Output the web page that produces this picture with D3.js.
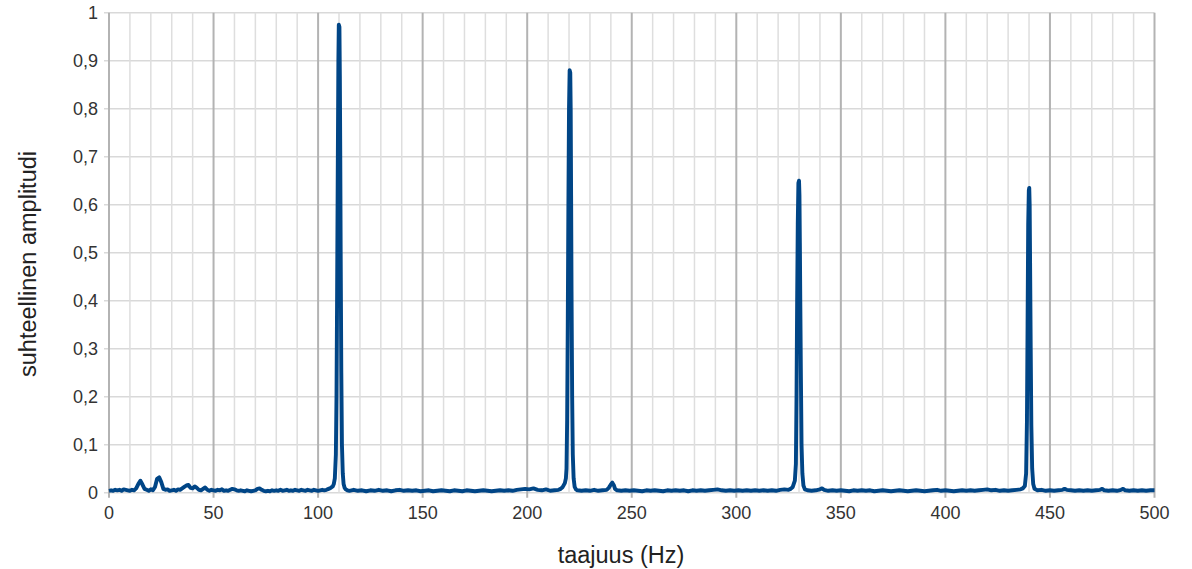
<!DOCTYPE html>
<html>
<head>
<meta charset="utf-8">
<script src="https://cdn.jsdelivr.net/npm/d3@7"></script>
<style>
  body { margin: 0; background: #fff; }
  text { font-family: "Liberation Sans", Arial, sans-serif; fill: #333; }
</style>
</head>
<body>
<div id="chart"></div>
<script>
// frame
const FRAME_WIDTH = 1192;
const FRAME_HEIGHT = 569;
const MARGINS = {left: 109, right: 37.5, top: 12.7, bottom: 76.3};

// tick values
const xTicks = [0, 50, 100, 150, 200, 250, 300, 350, 400, 450, 500];
const xMinor = [10, 20, 30, 40, 60, 70, 80, 90, 110, 120, 130, 140, 160, 170, 180, 190,
                210, 220, 230, 240, 260, 270, 280, 290, 310, 320, 330, 340, 360, 370, 380, 390,
                410, 420, 430, 440, 460, 470, 480, 490];
const yTicks = [0, 0.1, 0.2, 0.3, 0.4, 0.5, 0.6, 0.7, 0.8, 0.9, 1];

// spectrum, [frequency Hz, relative amplitude]
const lowBand = [[0,0.004],[1,0.005],[2,0.004],[3,0.006],[4,0.005],[5,0.006],[6,0.004],[7,0.007],[8,0.006],[9,0.005],
  [10,0.004],[11,0.006],[12,0.005],[13,0.009],[14,0.018],[15,0.025],[16,0.017],[17,0.008],[18,0.006],[19,0.004],
  [20,0.007],[21,0.005],[22,0.012],[23,0.029],[24,0.032],[25,0.022],[26,0.008],[27,0.006],[28,0.007],[29,0.004],
  [30,0.005],[31,0.006],[32,0.004],[33,0.007],[34,0.006],[35,0.009],[36,0.012],[37,0.015],[38,0.016],[39,0.01],
  [40,0.009],[41,0.013],[42,0.01],[43,0.006],[44,0.005],[45,0.008],[46,0.011],[47,0.006],[48,0.004],[49,0.006],
  [50,0.005],[51,0.004],[52,0.006],[53,0.005],[54,0.007],[55,0.004],[56,0.005],[57,0.004],[58,0.006],[59,0.008],
  [60,0.007],[61,0.005],[62,0.004],[63,0.005],[64,0.004],[65,0.003],[66,0.005],[67,0.004],[68,0.003],[69,0.004],
  [70,0.005],[71,0.008],[72,0.009],[73,0.006],[74,0.004],[75,0.003],[76,0.004],[77,0.003],[78,0.005],[79,0.004],
  [80,0.005],[81,0.004],[82,0.006],[83,0.004],[84,0.005],[85,0.006],[86,0.004],[87,0.005],[88,0.004],[89,0.006],
  [90,0.005],[91,0.004],[92,0.006],[93,0.005],[94,0.004],[95,0.006],[96,0.005],[97,0.004],[98,0.006],[99,0.005],
  [100,0.004],[101,0.005],[102,0.006],[103,0.005],[104,0.006],[105,0.008],[106,0.01],[107,0.013]];

const peak110 = [[107.5,0.018],[108,0.03],[108.5,0.08],[108.8,0.2],[109.1,0.42],[109.4,0.67],[109.7,0.9],
  [109.9,0.975],[110.2,0.97],[110.4,0.87],[110.6,0.7],[110.8,0.5],[111.1,0.25],[111.4,0.1],[111.8,0.04],
  [112.2,0.018],[112.7,0.01],[113.2,0.007],[114,0.005]];

const band2 = [[115,0.004],[117,0.006],[119,0.004],[121,0.005],[123,0.003],[125,0.005],[127,0.004],[129,0.006],
  [131,0.004],[133,0.005],[135,0.003],[137,0.005],[139,0.006],[141,0.004],[143,0.005],[145,0.004],[147,0.005],
  [149,0.003],[151,0.004],[153,0.005],[155,0.003],[157,0.004],[159,0.005],[161,0.004],[163,0.003],[165,0.005],
  [167,0.004],[169,0.003],[171,0.005],[173,0.004],[175,0.003],[177,0.004],[179,0.005],[181,0.004],[183,0.003],
  [185,0.004],[187,0.005],[189,0.004],[191,0.005],[193,0.004],[195,0.006],[197,0.007],[199,0.008],[201,0.007],
  [203,0.009],[205,0.006],[207,0.005],[209,0.007],[211,0.004],[213,0.005],[215,0.006],[216,0.008],[217,0.012],
  [218,0.02],[218.5,0.03]];

const peak220 = [[218.8,0.05],[219.1,0.15],[219.4,0.35],[219.7,0.6],[220,0.8],[220.3,0.88],[220.6,0.875],
  [220.8,0.8],[221,0.62],[221.2,0.42],[221.5,0.2],[221.8,0.08],[222.2,0.03],[222.7,0.012],[223.3,0.007]];

const band3 = [[224,0.005],[226,0.004],[228,0.005],[230,0.004],[232,0.006],[234,0.004],[236,0.005],[238,0.006],
  [239,0.01],[240,0.017],[240.7,0.021],[241.5,0.015],[242,0.008],[243,0.005],[245,0.004],[247,0.005],[249,0.004],
  [251,0.005],[253,0.004],[255,0.003],[257,0.005],[259,0.004],[261,0.005],[263,0.004],[265,0.003],[267,0.005],
  [269,0.004],[271,0.005],[273,0.004],[275,0.005],[277,0.003],[279,0.005],[281,0.004],[283,0.005],[285,0.004],
  [287,0.005],[289,0.006],[291,0.007],[293,0.005],[295,0.004],[297,0.005],[299,0.004],[301,0.005],[303,0.004],
  [305,0.005],[307,0.004],[309,0.005],[311,0.004],[313,0.005],[315,0.004],[317,0.005],[319,0.004],[321,0.006],
  [323,0.007],[325,0.006],[326,0.008],[327,0.012],[328,0.025]];

const peak330 = [[328.5,0.06],[328.8,0.2],[329.1,0.4],[329.4,0.56],[329.7,0.645],[330,0.65],[330.2,0.62],
  [330.4,0.52],[330.6,0.4],[330.9,0.24],[331.2,0.1],[331.6,0.04],[332.1,0.015],[332.8,0.007]];

const band4 = [[334,0.005],[336,0.004],[338,0.005],[340,0.007],[341,0.009],[342,0.006],[344,0.004],[346,0.005],
  [348,0.004],[350,0.005],[352,0.004],[354,0.003],[356,0.005],[358,0.004],[360,0.005],[362,0.004],[364,0.005],
  [366,0.003],[368,0.004],[370,0.005],[372,0.004],[374,0.003],[376,0.004],[378,0.005],[380,0.004],[382,0.003],
  [384,0.004],[386,0.005],[388,0.004],[390,0.003],[392,0.004],[394,0.005],[396,0.006],[398,0.004],[400,0.005],
  [402,0.004],[404,0.003],[406,0.004],[408,0.005],[410,0.004],[412,0.005],[414,0.004],[416,0.005],[418,0.006],
  [420,0.007],[422,0.005],[424,0.006],[426,0.004],[428,0.005],[430,0.004],[432,0.005],[434,0.006],[436,0.007],
  [437,0.009],[438,0.014]];

const peak440 = [[438.6,0.04],[439,0.15],[439.3,0.35],[439.6,0.56],[439.9,0.63],[440.1,0.635],[440.3,0.6],
  [440.5,0.48],[440.8,0.3],[441.1,0.14],[441.5,0.05],[442,0.018],[442.6,0.008]];

const band5 = [[444,0.005],[446,0.006],[448,0.004],[450,0.005],[452,0.004],[454,0.005],[456,0.006],[457,0.008],
  [458,0.006],[460,0.005],[462,0.004],[464,0.005],[466,0.004],[468,0.005],[470,0.004],[472,0.005],[474,0.006],
  [475,0.008],[476,0.005],[478,0.004],[480,0.005],[482,0.004],[484,0.006],[485,0.008],[486,0.005],[488,0.004],
  [490,0.005],[492,0.004],[494,0.005],[496,0.004],[498,0.005],[500,0.005]];

const spectrum = [].concat(lowBand, peak110, band2, peak220, band3, peak330, band4, peak440, band5);

const svg = d3.select("#chart")
  .append("svg")
  .attr("width", FRAME_WIDTH)
  .attr("height", FRAME_HEIGHT);

const X_SCALE = d3.scaleLinear()
  .domain([0, 500])
  .range([MARGINS.left, FRAME_WIDTH - MARGINS.right]);

const Y_SCALE = d3.scaleLinear()
  .domain([0, 1])
  .range([FRAME_HEIGHT - MARGINS.bottom, MARGINS.top]);

const x0 = X_SCALE(0), x1 = X_SCALE(500);
const y0 = Y_SCALE(0), y1 = Y_SCALE(1);

// horizontal grid (with small outside ticks)
svg.selectAll(".hgrid")
  .data(yTicks)
  .enter()
  .append("line")
    .attr("x1", x0 - 5)
    .attr("x2", x1)
    .attr("y1", d => Y_SCALE(d))
    .attr("y2", d => Y_SCALE(d))
    .style("stroke", "#d9d9d9")
    .style("stroke-width", 1.5);

// minor vertical grid
svg.selectAll(".vminor")
  .data(xMinor)
  .enter()
  .append("line")
    .attr("x1", d => X_SCALE(d))
    .attr("x2", d => X_SCALE(d))
    .attr("y1", y1)
    .attr("y2", y0)
    .style("stroke", "#dedede")
    .style("stroke-width", 1.5);

// major vertical grid
svg.selectAll(".vmajor")
  .data(xTicks)
  .enter()
  .append("line")
    .attr("x1", d => X_SCALE(d))
    .attr("x2", d => X_SCALE(d))
    .attr("y1", y1)
    .attr("y2", y0 + 5)
    .style("stroke", "#b3b3b3")
    .style("stroke-width", 2);

// tick labels
svg.selectAll(".ylab")
  .data(yTicks)
  .enter()
  .append("text")
    .attr("x", x0 - 11)
    .attr("y", d => Y_SCALE(d) + 6.5)
    .attr("text-anchor", "end")
    .style("font-size", "18px")
    .text(d => String(d).replace(".", ","));

svg.selectAll(".xlab")
  .data(xTicks)
  .enter()
  .append("text")
    .attr("x", d => X_SCALE(d))
    .attr("y", y0 + 26)
    .attr("text-anchor", "middle")
    .style("font-size", "18px")
    .text(d => d);

// axis titles
svg.append("text")
  .attr("x", 621)
  .attr("y", 563)
  .attr("text-anchor", "middle")
  .style("font-size", "23.5px")
  .style("fill", "#222")
  .text("taajuus (Hz)");

svg.append("text")
  .attr("transform", "translate(36,264) rotate(-90)")
  .attr("text-anchor", "middle")
  .style("font-size", "23.5px")
  .style("fill", "#222")
  .text("suhteellinen amplitudi");

// spectrum line
const line = d3.line()
  .x(d => X_SCALE(d[0]))
  .y(d => Y_SCALE(d[1]));

svg.append("path")
  .datum(spectrum)
  .attr("d", line)
  .style("fill", "none")
  .style("stroke", "#004586")
  .style("stroke-width", 3.9)
  .style("stroke-linejoin", "round");
</script>
</body>
</html>
